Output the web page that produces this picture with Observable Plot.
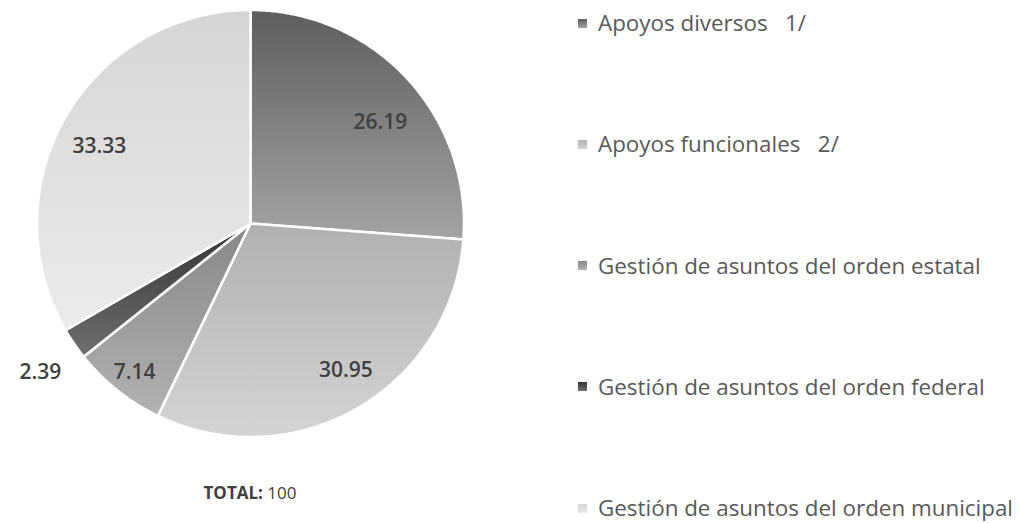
<!DOCTYPE html>
<html>
<head>
<meta charset="utf-8">
<script src="https://cdn.jsdelivr.net/npm/d3@7"></script>
<script src="https://cdn.jsdelivr.net/npm/@observablehq/plot@0.6"></script>
<style>
  html, body { margin: 0; padding: 0; background: #fff; }
  #wrap { position: relative; width: 1021px; height: 523px; overflow: hidden; }
  #chart { position: absolute; left: 0; top: 0; }
  #legend { position: absolute; left: 578px; top: 0; }
  .item { position: absolute; left: 0; height: 30px; white-space: pre; font-family: "Open Sans", sans-serif; font-size: 22.4px; line-height: 30px; color: #595959; display: flex; align-items: center; }
  .sw { width: 9px; height: 9px; margin-right: 11px; flex: none; }
  #total { position: absolute; left: 250px; top: 492px; transform: translate(-50%, -50%); font-family: "Open Sans", sans-serif; font-size: 17px; color: #404040; white-space: pre; }
</style>
</head>
<body>
<div id="wrap">
  <div id="chart"></div>
  <div id="legend"></div>
  <div id="total"><b>TOTAL:</b> 100</div>
</div>
<script>
// ---- data ----
const categories = [
  "Apoyos diversos   1/",
  "Apoyos funcionales   2/",
  "Gestión de asuntos del orden estatal",
  "Gestión de asuntos del orden federal",
  "Gestión de asuntos del orden municipal"
];
const values = [26.19, 30.95, 7.14, 2.39, 33.33];
const valueLabels = ["26.19", "30.95", "7.14", "2.39", "33.33"];

// ---- styles / layout ----
const gradTop =    ["#5e5e5e", "#b0b0b0", "#878787", "#333333", "#d5d5d5"];
const gradBottom = ["#a4a4a4", "#d4d4d4", "#b2b2b2", "#707070", "#ebebeb"];
const labelRadius = [0.771, 0.82, 0.884, 1.206, 0.794];
const labelAngleShift = [5, -3, -0.7, -1, -3]; // degrees

// ---- geometry (pixels) ----
const W = 500, H = 523, R = 213.5, cx = 250, cy = 223;

const total = d3.sum(values);
const slices = [];
let acc = 0;
values.forEach((v, i) => {
  const a0 = acc / total * 2 * Math.PI;
  acc += v;
  const a1 = acc / total * 2 * Math.PI;
  slices.push({i, a0, a1, mid: (a0 + a1) / 2});
});

const polys = slices.map(s => {
  const pts = [{x: 0, y: 0}];
  const n = Math.max(2, Math.ceil((s.a1 - s.a0) / (Math.PI / 360)));
  for (let k = 0; k <= n; k++) {
    const a = s.a0 + (s.a1 - s.a0) * k / n;
    pts.push({x: Math.sin(a), y: Math.cos(a)});
  }
  pts.push({x: 0, y: 0});
  return pts;
});

const labels = slices.map(s => {
  const a = s.mid + labelAngleShift[s.i] * Math.PI / 180;
  return {
    x: Math.sin(a) * labelRadius[s.i],
    y: Math.cos(a) * labelRadius[s.i],
    text: valueLabels[s.i]
  };
});

const defs = () => {
  const ns = "http://www.w3.org/2000/svg";
  const d = document.createElementNS(ns, "defs");
  gradTop.forEach((c, i) => {
    const g = document.createElementNS(ns, "linearGradient");
    g.setAttribute("id", "g" + i);
    g.setAttribute("x1", "0"); g.setAttribute("y1", "0");
    g.setAttribute("x2", "0"); g.setAttribute("y2", "1");
    const s0 = document.createElementNS(ns, "stop");
    s0.setAttribute("offset", "0"); s0.setAttribute("stop-color", c);
    const s1 = document.createElementNS(ns, "stop");
    s1.setAttribute("offset", "1"); s1.setAttribute("stop-color", gradBottom[i]);
    g.appendChild(s0); g.appendChild(s1);
    d.appendChild(g);
  });
  return d;
};

const chart = Plot.plot({
  width: W, height: H,
  margin: 0,
  x: {domain: [-cx / R, (W - cx) / R], axis: null},
  y: {domain: [-(H - cy) / R, cy / R], axis: null},
  marks: [
    defs,
    ...polys.map((p, i) => Plot.line(p, {
      x: "x", y: "y", fill: `url(#g${i})`, stroke: "white", strokeWidth: 2.5,
      strokeLinejoin: "round", curve: "linear"
    })),
    Plot.text(labels, {
      x: "x", y: "y", text: "text", fill: "#404040",
      fontSize: 21, fontWeight: 600, fontFamily: "Open Sans, sans-serif"
    })
  ]
});
document.getElementById("chart").appendChild(chart);

// legend
const legend = document.getElementById("legend");
categories.forEach((c, i) => {
  const item = document.createElement("div");
  item.className = "item";
  item.style.top = (23 + i * 121.25 - 15) + "px";
  const sw = document.createElement("span");
  sw.className = "sw";
  sw.style.background = `linear-gradient(${gradTop[i]}, ${gradBottom[i]})`;
  const t = document.createElement("span");
  t.textContent = c;
  item.appendChild(sw); item.appendChild(t);
  legend.appendChild(item);
});
</script>
</body>
</html>
